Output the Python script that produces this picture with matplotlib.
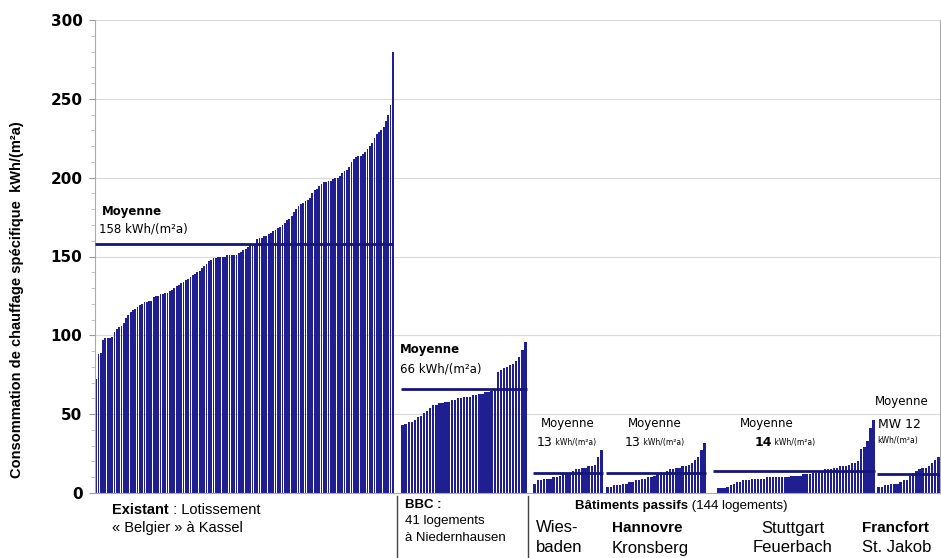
import numpy as np
import matplotlib
matplotlib.use("Agg")
import matplotlib.pyplot as plt
from matplotlib.lines import Line2D

W, H = 941, 558

# Valeurs (kWh/(m²a)), triées par groupe
kassel = [
    72, 88, 89,
    97, 98, 98, 98, 99,
    102, 104,
    105, 106, 108,
    111, 113, 115,
    116, 117, 118, 119,
    120, 121, 121, 122, 122,
    124, 125, 125, 126, 126,
    127, 127, 128, 129, 130,
    131, 132, 133, 134, 135,
    136, 137, 138, 139, 140,
    141, 143, 144, 145, 147,
    148, 149, 149, 150, 150,
    150, 150, 151, 151, 151, 151, 151, 152, 153, 154,
    155, 156, 157, 157, 158,
    161, 162, 162, 163, 163,
    164, 165, 166, 167, 168,
    169, 170, 171, 173, 174,
    176, 178, 180, 182, 183,
    184, 185, 186, 187, 190,
    192, 193, 195, 196, 197,
    197, 198, 198, 199, 200,
    200, 201, 203, 204, 205,
    207, 210, 212, 213, 214,
    214, 215, 216, 218, 220,
    222, 225, 228, 229, 230, 232, 236, 240, 246, 280,
]
bbc = [43, 44, 45, 45, 46, 48, 49, 51, 52, 54, 56, 56, 57, 57, 58, 58, 59,
       59, 60, 60, 61, 61, 61, 62, 62, 63, 63, 64, 64, 65, 66, 77, 78, 79,
       80, 81, 82, 84, 86, 91, 96]
wiesbaden = [6, 8, 8, 9, 9, 9, 10, 10, 11, 12, 13, 13, 14, 15, 15, 16, 16,
             17, 17, 18, 23, 27]
hannovre = [4, 4, 5, 5, 5, 6, 6, 7, 7, 8, 8, 9, 9, 10, 10, 11, 12, 12, 13,
            14, 15, 15, 16, 16, 17, 17, 18, 19, 21, 23, 27, 32]
stuttgart = [3, 3, 3, 4, 5, 6, 7, 7, 8, 8, 8, 9, 9, 9, 9, 9, 10, 10, 10, 10,
             10, 10, 10, 10, 11, 11, 11, 11, 12, 12, 12, 13, 13, 14, 14, 15,
             15, 15, 16, 16, 17, 17, 17, 18, 19, 19, 20, 28, 29, 33, 41, 46]
francfort = [4, 4, 5, 5, 6, 6, 6, 7, 8, 8, 11, 13, 14, 15, 16, 16, 17, 19,
             21, 23]
means = [158, 66, 13, 13, 14, 12]
y_ticks = [0, 50, 100, 150, 200, 250, 300]

BAR = "#1f1f92"
LINE = "#15157a"
SANS = ["Liberation Sans", "DejaVu Sans"]
WIDE = ["DejaVu Sans"]


def fx(x):
    return x / W


def fy(y):
    return 1 - y / H


fig = plt.figure(figsize=(W / 100, H / 100), dpi=100)
ax = fig.add_axes([fx(95), fy(493), (940 - 95) / W, (493 - 20) / H])
ax.set_xlim(95, 940)
ax.set_ylim(0, 300)

# emplacement horizontal de chaque groupe (en pixels) : barres, puis ligne de moyenne
groups = [kassel, bbc, wiesbaden, hannovre, stuttgart, francfort]
bar_spans = [(95, 394), (401, 527), (533, 603), (606, 706), (717, 875), (877, 940)]
mean_spans = [(95, 393), (401, 527), (533, 603), (606, 706), (713, 875), (877, 940)]

for vals, (x0, x1), (m0, m1), m in zip(groups, bar_spans, mean_spans, means):
    n = len(vals)
    slot = (x1 - x0) / n
    xs = x0 + slot * (np.arange(n) + 0.5)
    ax.bar(xs, vals, width=slot * 0.76, color=BAR, linewidth=0, zorder=2)
    ax.hlines(m, m0, m1, color=LINE, linewidth=2, zorder=3)

# axes
ax.set_yticks(y_ticks)
ax.set_yticks(np.arange(0, 301, 10), minor=True)
ax.set_xticks([])
ax.grid(axis="y", which="major", color="#d9d9d9", linewidth=0.8, zorder=0)
ax.tick_params(axis="y", which="major", length=4, color="#999999", pad=5)
ax.tick_params(axis="y", which="minor", length=3, color="#bbbbbb")
for lab in ax.get_yticklabels():
    lab.set_fontfamily(WIDE)
    lab.set_fontweight("bold")
    lab.set_fontsize(11)
ax.spines["top"].set_visible(False)
for side in ["left", "bottom", "right"]:
    ax.spines[side].set_color("#aaaaaa")
    ax.spines[side].set_linewidth(0.8)

fig.text(fx(17), fy(300), "Consommation de chauffage spécifique  kWh/(m²a)",
         rotation=90, ha="center", va="center", fontsize=10.5,
         fontweight="bold", family=SANS)

# moyennes
fig.text(fx(102), fy(211), "Moyenne", fontsize=8.5, fontweight="bold",
         family=WIDE, va="center")
fig.text(fx(99), fy(229), "158 kWh/(m²a)", fontsize=8.5, family=WIDE,
         va="center")
fig.text(fx(400), fy(350), "Moyenne", fontsize=8.5, fontweight="bold",
         family=WIDE, va="center")
fig.text(fx(400), fy(369), "66 kWh/(m²a)", fontsize=8.5, family=WIDE,
         va="center")

fig.text(fx(541), fy(424), "Moyenne", fontsize=8.5, family=WIDE, va="center")
t = fig.text(fx(537), fy(446), "13", fontsize=9, family=WIDE)
ax.annotate(" kWh/(m²a)", xy=(1, 0.15), xycoords=t, fontsize=5.5,
            family=WIDE, va="bottom", annotation_clip=False)
fig.text(fx(628), fy(424), "Moyenne", fontsize=8.5, family=WIDE, va="center")
t = fig.text(fx(625), fy(446), "13", fontsize=9, family=WIDE)
ax.annotate(" kWh/(m²a)", xy=(1, 0.15), xycoords=t, fontsize=5.5,
            family=WIDE, va="bottom", annotation_clip=False)
fig.text(fx(740), fy(424), "Moyenne", fontsize=8.5, family=WIDE, va="center")
t = fig.text(fx(755), fy(446), "14", fontsize=9, family=WIDE,
             fontweight="bold")
ax.annotate(" kWh/(m²a)", xy=(1, 0.15), xycoords=t, fontsize=5.5,
            family=WIDE, va="bottom", annotation_clip=False)
fig.text(fx(875), fy(402), "Moyenne", fontsize=8.5, family=WIDE, va="center")
fig.text(fx(878), fy(425), "MW 12", fontsize=9, family=WIDE, va="center")
fig.text(fx(877), fy(440), "kWh/(m²a)", fontsize=5.5, family=WIDE,
         va="center")

# étiquettes sous l'axe
t = fig.text(fx(112), fy(510), "Existant", fontsize=10.5, fontweight="bold",
             family=SANS, va="center")
ax.annotate(" : Lotissement", xy=(1, 0), xycoords=t, fontsize=10.5,
            family=SANS, va="bottom", annotation_clip=False)
fig.text(fx(112), fy(528), "« Belgier » à Kassel", fontsize=10.5,
         family=SANS, va="center")

fig.text(fx(405), fy(505), "BBC :", fontsize=9.5, fontweight="bold",
         family=SANS, va="center")
fig.text(fx(405), fy(521), "41 logements", fontsize=9.5, family=SANS,
         va="center")
fig.text(fx(405), fy(538), "à Niedernhausen", fontsize=9.5, family=SANS,
         va="center")

t = fig.text(fx(575), fy(506), "Bâtiments passifs", fontsize=9.5,
             fontweight="bold", family=SANS, va="center")
ax.annotate(" (144 logements)", xy=(1, 0), xycoords=t, fontsize=9.5,
            family=SANS, va="bottom", annotation_clip=False)

fig.text(fx(536), fy(528), "Wies-", fontsize=12, family=SANS, va="center")
fig.text(fx(536), fy(548), "baden", fontsize=12, family=SANS, va="center")
fig.text(fx(612), fy(528), "Hannovre", fontsize=11, fontweight="bold",
         family=SANS, va="center")
fig.text(fx(612), fy(548), "Kronsberg", fontsize=12, family=SANS, va="center")
fig.text(fx(793), fy(528), "Stuttgart", fontsize=12, family=SANS,
         va="center", ha="center")
fig.text(fx(793), fy(548), "Feuerbach", fontsize=12, family=SANS,
         va="center", ha="center")
fig.text(fx(862), fy(528), "Francfort", fontsize=11, fontweight="bold",
         family=SANS, va="center")
fig.text(fx(862), fy(548), "St. Jakob", fontsize=12, family=SANS, va="center")

# séparateurs verticaux sous l'axe
for xsep in [397, 528]:
    fig.add_artist(Line2D([fx(xsep), fx(xsep)], [fy(496), fy(558)],
                          color="#444444", linewidth=1))

fig.savefig("out.png", dpi=100)
